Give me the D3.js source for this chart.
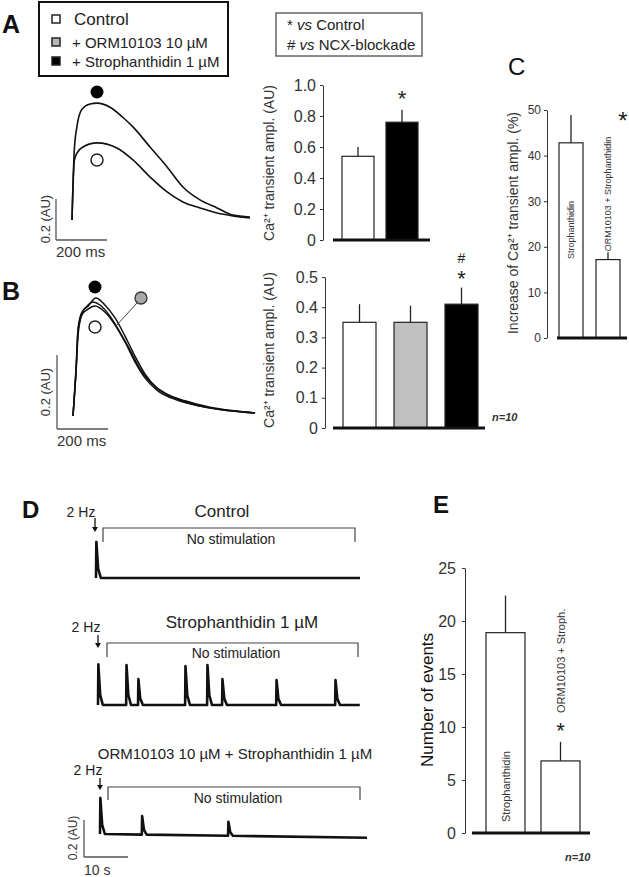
<!DOCTYPE html>
<html><head><meta charset="utf-8">
<script src="https://cdn.jsdelivr.net/npm/d3@7"></script>
<style>body{margin:0;background:#fff}svg{display:block}</style>
</head><body><svg id="c" width="629" height="877"></svg>
<script>
// ---------------- DATA ----------------
const legendLabels = ["Control", "+ ORM10103 10 µM", "+ Strophanthidin 1 µM"];
const legendFills = ["#ffffff", "#b8b8b8", "#000000"];

// Panel A bars
const barsA = ["Control", "Strophanthidin"];
const valuesA = [0.54, 0.76];
const errorsA = [0.06, 0.08];
const ticksA = [0, 0.2, 0.4, 0.6, 0.8, 1.0];

// Panel B bars
const barsB = ["Control", "ORM10103", "Strophanthidin"];
const valuesB = [0.35, 0.35, 0.41];
const errorsB = [0.06, 0.055, 0.055];
const ticksB = [0, 0.1, 0.2, 0.3, 0.4, 0.5];

// Panel C bars
const barsC = ["Strophanthidin", "ORM10103 + Strophanthidin"];
const valuesC = [42.8, 17.2];
const errorsC = [6.1, 1.6];
const ticksC = [0, 10, 20, 30, 40, 50];

// Panel E bars
const barsE = ["Strophanthidin", "ORM10103 + Stroph."];
const valuesE = [18.9, 6.8];
const errorsE = [3.5, 1.8];
const ticksE = [0, 5, 10, 15, 20, 25];

// Panel A Ca2+ transients: [time ms, amplitude AU]
const traceAControl = [[0,0],[9,0.29],[20,0.327],[43,0.356],[98,0.376],[176,0.351],[239,0.293],[306,0.21],[373,0.137],[435,0.088],[502,0.059],[569,0.034],[631,0.02],[698,0.01]];
const traceAStroph = [[0,0],[9,0.34],[20,0.46],[39,0.54],[71,0.566],[98,0.57],[149,0.55],[200,0.5],[239,0.454],[306,0.356],[373,0.259],[435,0.161],[502,0.098],[569,0.059],[631,0.024],[698,0.015]];

// Panel B Ca2+ transients under NCX blockade
const traceBControl = [[0,0],[12,0.124],[20,0.232],[35,0.273],[59,0.289],[86,0.297],[125,0.281],[165,0.246],[204,0.2],[243,0.146],[282,0.103],[329,0.07],[408,0.043],[498,0.027],[616,0.014],[714,0.008]];
const traceBORM = [[0,0],[12,0.119],[20,0.219],[35,0.276],[59,0.3],[78,0.308],[106,0.3],[145,0.27],[184,0.227],[224,0.178],[263,0.127],[302,0.092],[361,0.062],[439,0.041],[537,0.024],[635,0.014],[714,0.008]];
const traceBStroph = [[0,0],[12,0.13],[20,0.238],[35,0.281],[59,0.297],[90,0.319],[125,0.3],[165,0.265],[204,0.216],[243,0.162],[282,0.114],[329,0.076],[408,0.046],[498,0.027],[616,0.014],[714,0.008]];

// Panel D spontaneous events: [time s, amplitude AU]
const eventsDControl = [[0, 0.195]];
const eventsDStroph = [[0,0.22],[6.4,0.216],[9.1,0.14],[19.8,0.21],[24.8,0.216],[28.2,0.14],[40.5,0.135],[53.9,0.135]];
const eventsDORM = [[0,0.195],[9.5,0.1],[29.1,0.076]];
const durationsD = [60, 59.5, 60.7];
const driftD = [0, 0, -0.02];
const titlesD = ["Control", "Strophanthidin 1 µM", "ORM10103 10 µM + Strophanthidin 1 µM"];

// ---------------- DRAWING ----------------
const F = '"Liberation Sans", Arial, Helvetica, sans-serif';
const svg = d3.select("#c").attr("font-family", F);

function text(x, y, s, o = {}) {
  const t = svg.append("text").attr("x", x).attr("y", y)
    .attr("font-size", o.size || 14)
    .attr("fill", o.fill || "#222")
    .attr("text-anchor", o.anchor || "start")
    .attr("font-weight", o.weight || "normal")
    .attr("font-style", o.style || "normal");
  if (o.rotate) t.attr("transform", `rotate(${o.rotate},${x},${y})`);
  if (o.baseline) t.attr("dominant-baseline", o.baseline);
  t.text(s);
  return t;
}
function line(x1, y1, x2, y2, w = 1, c = "#222") {
  return svg.append("line").attr("x1", x1).attr("y1", y1).attr("x2", x2).attr("y2", y2)
    .attr("stroke", c).attr("stroke-width", w);
}

// Panel letters
text(2, 33, "A", {size: 25, weight: "bold", fill: "#111"});
text(2, 300, "B", {size: 25, weight: "bold", fill: "#111"});
text(508, 75, "C", {size: 24, fill: "#111"});
text(22, 518, "D", {size: 24, weight: "bold", fill: "#111"});
text(433, 513, "E", {size: 24, weight: "bold", fill: "#111"});

// Legend (top left)
svg.append("rect").attr("x", 39).attr("y", 2).attr("width", 189).attr("height", 74)
  .attr("fill", "none").attr("stroke", "#111").attr("stroke-width", 2);
const legY = [19, 42, 61];
legendLabels.forEach((l, i) => {
  svg.append("rect").attr("x", 52).attr("y", legY[i] - 4).attr("width", 8).attr("height", 8)
    .attr("fill", legendFills[i]).attr("stroke", "#222").attr("stroke-width", 1.5);
  text(i === 0 ? 74 : 72, legY[i], l, {size: i === 0 ? 17 : 15, baseline: "central"});
});

// Legend (stats)
svg.append("rect").attr("x", 276).attr("y", 13).attr("width", 146).attr("height", 43)
  .attr("fill", "none").attr("stroke", "#666").attr("stroke-width", 1.5);
{
  const t1 = svg.append("text").attr("x", 287).attr("y", 30).attr("font-size", 15).attr("fill", "#222");
  t1.append("tspan").text("* ");
  t1.append("tspan").attr("font-style", "italic").text("vs");
  t1.append("tspan").text(" Control");
  const t2 = svg.append("text").attr("x", 287).attr("y", 50).attr("font-size", 15).attr("fill", "#222");
  t2.append("tspan").text("# ");
  t2.append("tspan").attr("font-style", "italic").text("vs");
  t2.append("tspan").text("  NCX-blockade");
}

// Generic bar chart
function barChart(c) {
  const y = d3.scaleLinear().domain([0, c.vmax]).range([c.y0, c.y1]);
  const gap = c.step - c.bw;
  const x = d3.scaleBand().domain(c.cats)
    .range([c.firstX, c.firstX + c.cats.length * c.step - gap])
    .paddingInner(gap / c.step).paddingOuter(0);
  const ax = svg.append("g").attr("transform", `translate(${c.axisX},0)`)
    .call(d3.axisLeft(y).tickValues(c.ticks).tickSize(3).tickSizeOuter(0).tickPadding(c.pad || 4).tickFormat(c.fmt));
  ax.select(".domain").attr("stroke", "#333");
  ax.selectAll(".tick line").attr("stroke", "#333");
  ax.selectAll("text").attr("font-size", c.tickSize).attr("fill", "#333").attr("font-family", F);
  const g = svg.append("g");
  g.selectAll(".err").data(c.cats).join("line")
    .attr("x1", d => x(d) + x.bandwidth() / 2).attr("x2", d => x(d) + x.bandwidth() / 2)
    .attr("y1", (d, i) => y(c.vals[i])).attr("y2", (d, i) => y(c.vals[i] + c.errs[i]))
    .attr("stroke", "#222").attr("stroke-width", 1.3);
  g.selectAll(".bar").data(c.cats).join("rect")
    .attr("x", d => x(d)).attr("width", x.bandwidth())
    .attr("y", (d, i) => y(c.vals[i])).attr("height", (d, i) => y(0) - y(c.vals[i]))
    .attr("fill", (d, i) => c.fills[i]).attr("stroke", "#222").attr("stroke-width", 1.2);
  line(c.base[0], y(0), c.base[1], y(0), 3, "#111");
  return {x, y};
}
const fmt1 = d => d === 0 ? "0" : d.toFixed(1);

// Panel A bars
const A = barChart({cats: barsA, vals: valuesA, errs: errorsA, ticks: ticksA, vmax: 1,
  y0: 240, y1: 85, axisX: 323, firstX: 342, step: 44, bw: 32, base: [333, 430],
  fills: ["#fff", "#000"], tickSize: 16, fmt: fmt1, pad: 4});
text(A.x(barsA[1]) + A.x.bandwidth() / 2, A.y(valuesA[1] + errorsA[1]) - 4, "*", {size: 22, anchor: "middle"});
text(269, 163, "Ca²⁺ transient ampl. (AU)", {size: 14, anchor: "middle", rotate: -90, baseline: "central", fill: "#333"});

// Panel B bars
const B = barChart({cats: barsB, vals: valuesB, errs: errorsB, ticks: ticksB, vmax: 0.5,
  y0: 428, y1: 277, axisX: 325, firstX: 343, step: 51, bw: 33, base: [333, 485],
  fills: ["#fff", "#c0c0c0", "#000"], tickSize: 16, fmt: fmt1, pad: 4});
text(B.x(barsB[2]) + B.x.bandwidth() / 2, 263, "#", {size: 14, anchor: "middle"});
text(B.x(barsB[2]) + B.x.bandwidth() / 2, 286, "*", {size: 22, anchor: "middle"});
text(269, 350, "Ca²⁺ transient ampl. (AU)", {size: 14, anchor: "middle", rotate: -90, baseline: "central", fill: "#333"});

// Panel C bars
const C = barChart({cats: barsC, vals: valuesC, errs: errorsC, ticks: ticksC, vmax: 50,
  y0: 338, y1: 110, axisX: 547, firstX: 559, step: 37, bw: 24, base: [557, 627],
  fills: ["#fff", "#fff"], tickSize: 12, fmt: d3.format("d"), pad: 3});
text(C.x(barsC[0]) + C.x.bandwidth() / 2, 230, barsC[0], {size: 9, anchor: "middle", rotate: -90, baseline: "central", fill: "#333"});
text(C.x(barsC[1]) + C.x.bandwidth() / 2, 194, barsC[1], {size: 9, anchor: "middle", rotate: -90, baseline: "central", fill: "#333"});
text(623, 129, "*", {size: 24, anchor: "middle"});
text(513, 223, "Increase of Ca²⁺ transient ampl. (%)", {size: 14, anchor: "middle", rotate: -90, baseline: "central", fill: "#333"});
text(492, 421, "n=10", {size: 11, weight: "bold", style: "italic", fill: "#333"});

// Panel E bars
const E = barChart({cats: barsE, vals: valuesE, errs: errorsE, ticks: ticksE, vmax: 25,
  y0: 833, y1: 568, axisX: 465, firstX: 486, step: 55, bw: 39, base: [472, 590],
  fills: ["#fff", "#fff"], tickSize: 16, fmt: d3.format("d"), pad: 6});
text(E.x(barsE[0]) + E.x.bandwidth() / 2, 822, barsE[0], {size: 11, anchor: "start", rotate: -90, baseline: "central", fill: "#333"});
text(E.x(barsE[1]) + E.x.bandwidth() / 2, 713, barsE[1], {size: 11, anchor: "start", rotate: -90, baseline: "central", fill: "#333"});
text(E.x(barsE[1]) + E.x.bandwidth() / 2, 738, "*", {size: 22, anchor: "middle"});
text(427, 700, "Number of events", {size: 17, anchor: "middle", rotate: -90, baseline: "central", fill: "#111"});
text(565, 861, "n=10", {size: 11, weight: "bold", style: "italic", fill: "#333"});

// ---------- Panel A traces ----------
{
  const x = d3.scaleLinear().domain([0, 700]).range([72, 72 + 700 * 0.255]);
  const y = d3.scaleLinear().domain([0, 1]).range([220, 15]);
  const ln = d3.line().x(d => x(d[0])).y(d => y(d[1])).curve(d3.curveMonotoneX);
  [traceAControl, traceAStroph].forEach(tr => {
    svg.append("path").attr("d", ln(tr)).attr("fill", "none").attr("stroke", "#111").attr("stroke-width", 1.6);
  });
  svg.append("circle").attr("cx", 97).attr("cy", 92).attr("r", 6.5).attr("fill", "#000");
  svg.append("circle").attr("cx", 97).attr("cy", 160).attr("r", 6).attr("fill", "#fff").attr("stroke", "#222").attr("stroke-width", 1.5);
  // scale bars
  const sx = 56, sy = 240;
  line(sx, sy, sx, sy - (y(0) - y(0.2)), 1.3, "#555");
  line(sx, sy, sx + (x(200) - x(0)), sy, 1.3, "#555");
  text(45, 219, "0.2 (AU)", {size: 13, anchor: "middle", rotate: -90, baseline: "central", fill: "#333"});
  text(56, 257, "200 ms", {size: 15, fill: "#333"});
}

// ---------- Panel B traces ----------
{
  const x = d3.scaleLinear().domain([0, 700]).range([73, 73 + 700 * 0.255]);
  const y = d3.scaleLinear().domain([0, 1]).range([416, 46]);
  const ln = d3.line().x(d => x(d[0])).y(d => y(d[1])).curve(d3.curveMonotoneX);
  [traceBControl, traceBORM, traceBStroph].forEach(tr => {
    svg.append("path").attr("d", ln(tr)).attr("fill", "none").attr("stroke", "#111").attr("stroke-width", 1.5);
  });
  svg.append("circle").attr("cx", 95).attr("cy", 287).attr("r", 6.5).attr("fill", "#000");
  svg.append("circle").attr("cx", 141).attr("cy", 298).attr("r", 6).attr("fill", "#a8a8a8").attr("stroke", "#333").attr("stroke-width", 1.3);
  line(137, 303, 116, 326, 1, "#444");
  svg.append("circle").attr("cx", 95).attr("cy", 327).attr("r", 6).attr("fill", "#fff").attr("stroke", "#222").attr("stroke-width", 1.5);
  const sx = 57, sy = 429;
  line(sx, sy, sx, sy - (y(0) - y(0.2)), 1.3, "#555");
  line(sx, sy, sx + (x(200) - x(0)), sy, 1.3, "#555");
  text(45, 392, "0.2 (AU)", {size: 13, anchor: "middle", rotate: -90, baseline: "central", fill: "#333"});
  text(57, 446, "200 ms", {size: 15, fill: "#333"});
}

// ---------- Panel D traces ----------
{
  const layout = [
    {x0: 96, base: 578, title: [222, 511], hz: [81, 512], arrow: [95, 518, 532], br: [103, 355, 528, 542], ns: [231, 539]},
    {x0: 98, base: 705, title: [242, 622], hz: [86, 627], arrow: [98, 635, 648], br: [107, 358, 643, 657], ns: [236, 653]},
    {x0: 100, base: 834, title: [235, 753], hz: [88, 770], arrow: [100, 778, 790], br: [108, 360, 787, 800], ns: [238, 798]}
  ];
  const events = [eventsDControl, eventsDStroph, eventsDORM];
  layout.forEach((L, k) => {
    const x = d3.scaleLinear().domain([0, 60]).range([L.x0, L.x0 + 60 * 4.4]);
    const y = d3.scaleLinear().domain([0, 1]).range([L.base, L.base - 185]);
    const dur = durationsD[k];
    const b = t => driftD[k] * t / dur;
    const pts = [];
    events[k].forEach(([t, a]) => {
      pts.push([t, b(t)]);
      pts.push([t + 0.08, b(t) + a]);
      pts.push([t + 0.5, b(t) + a * 0.25]);
      pts.push([t + 1.1, b(t)]);
    });
    pts.push([dur, b(dur)]);
    svg.append("path").attr("d", d3.line().x(d => x(d[0])).y(d => y(d[1]))(pts))
      .attr("fill", "none").attr("stroke", "#111").attr("stroke-width", 2.6).attr("stroke-linejoin", "round");
    text(L.title[0], L.title[1], titlesD[k], {size: k === 2 ? 15 : 17, anchor: "middle", baseline: "central", fill: "#222"});
    text(L.hz[0], L.hz[1], "2 Hz", {size: 14, anchor: "middle", baseline: "central", fill: "#222"});
    line(L.arrow[0], L.arrow[1], L.arrow[0], L.arrow[2] - 4, 1.3, "#111");
    svg.append("path").attr("d", `M${L.arrow[0] - 3},${L.arrow[2] - 5} L${L.arrow[0] + 3},${L.arrow[2] - 5} L${L.arrow[0]},${L.arrow[2]} Z`).attr("fill", "#111");
    svg.append("path").attr("d", `M${L.br[0]},${L.br[3]} V${L.br[2]} H${L.br[1]} V${L.br[3]}`)
      .attr("fill", "none").attr("stroke", "#444").attr("stroke-width", 1.2);
    text(L.ns[0], L.ns[1], "No stimulation", {size: 14, anchor: "middle", baseline: "central", fill: "#222"});
    if (k === 2) {
      const sx = 84, sy = 857;
      line(sx, sy, sx, sy - (y(0) - y(0.2)), 1.3, "#555");
      line(sx, sy, sx + (x(10) - x(0)), sy, 1.3, "#555");
      text(73, 838, "0.2 (AU)", {size: 12, anchor: "middle", rotate: -90, baseline: "central", fill: "#333"});
      text(84, 875, "10 s", {size: 14, fill: "#333"});
    }
  });
}
</script>
</body></html>
